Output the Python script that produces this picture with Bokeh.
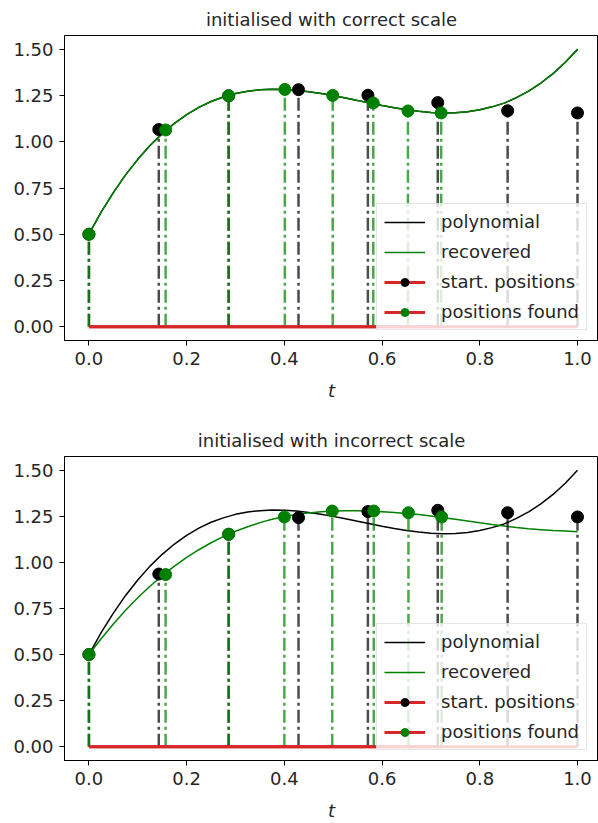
from bokeh.plotting import figure
from bokeh.layouts import column
from bokeh.models import FixedTicker, Range1d, Legend, LegendItem
from bokeh.embed import file_html
from bokeh.resources import INLINE

# ---- data ----
titles = ["initialised with correct scale", "initialised with incorrect scale"]

curve_t = [0.000, 0.025, 0.050, 0.075, 0.100, 0.125, 0.150, 0.175, 0.200, 0.225,
           0.250, 0.275, 0.300, 0.325, 0.350, 0.375, 0.400, 0.425, 0.450, 0.475,
           0.500, 0.525, 0.550, 0.575, 0.600, 0.625, 0.650, 0.675, 0.700, 0.725,
           0.750, 0.775, 0.800, 0.825, 0.850, 0.875, 0.900, 0.925, 0.950, 0.975, 1.000]
polynomial = [0.500, 0.619, 0.725, 0.821, 0.905, 0.980, 1.044, 1.100, 1.147, 1.186,
              1.218, 1.242, 1.261, 1.274, 1.281, 1.284, 1.283, 1.279, 1.271, 1.261,
              1.250, 1.237, 1.223, 1.210, 1.196, 1.184, 1.173, 1.165, 1.159, 1.156,
              1.157, 1.162, 1.173, 1.189, 1.209, 1.239, 1.274, 1.318, 1.369, 1.430, 1.500]
recovered_correct = [0.500, 0.619, 0.725, 0.821, 0.905, 0.980, 1.044, 1.100, 1.147, 1.186,
                     1.218, 1.242, 1.261, 1.274, 1.281, 1.284, 1.283, 1.279, 1.271, 1.261,
                     1.250, 1.237, 1.223, 1.210, 1.196, 1.184, 1.173, 1.165, 1.159, 1.156,
                     1.157, 1.162, 1.173, 1.189, 1.209, 1.239, 1.274, 1.318, 1.369, 1.430, 1.500]
recovered_incorrect = [0.500, 0.586, 0.666, 0.740, 0.808, 0.871, 0.928, 0.980, 1.027, 1.069,
                       1.107, 1.140, 1.169, 1.194, 1.216, 1.234, 1.249, 1.260, 1.269, 1.275,
                       1.279, 1.281, 1.280, 1.278, 1.275, 1.271, 1.266, 1.260, 1.252, 1.243,
                       1.234, 1.225, 1.215, 1.206, 1.198, 1.190, 1.183, 1.178, 1.173, 1.170, 1.167]

start_t = [0.000, 0.143, 0.286, 0.429, 0.571, 0.714, 0.857, 1.000]
start_v_correct = [0.500, 1.066, 1.249, 1.282, 1.252, 1.212, 1.168, 1.156]
start_v_incorrect = [0.500, 0.937, 1.153, 1.243, 1.276, 1.283, 1.270, 1.247]

found_t_correct = [0.000, 0.157, 0.286, 0.401, 0.499, 0.582, 0.653, 0.721]
found_v_correct = [0.500, 1.064, 1.249, 1.283, 1.251, 1.210, 1.167, 1.156]
found_t_incorrect = [0.000, 0.157, 0.286, 0.400, 0.498, 0.583, 0.654, 0.722]
found_v_incorrect = [0.500, 0.934, 1.153, 1.247, 1.279, 1.279, 1.270, 1.247]

x_ticks = [0.0, 0.2, 0.4, 0.6, 0.8, 1.0]
x_tick_labels = ["0.0", "0.2", "0.4", "0.6", "0.8", "1.0"]
y_ticks = [0.0, 0.25, 0.5, 0.75, 1.0, 1.25, 1.5]
y_tick_labels = ["0.00", "0.25", "0.50", "0.75", "1.00", "1.25", "1.50"]

FONT = "DejaVu Sans"
TXT = "#262626"


def panel(title, rec, sv, ft, fv, height, top, bottom):
    p = figure(width=598, height=height, output_backend="svg", toolbar_location=None,
               x_range=Range1d(-0.05, 1.043), y_range=Range1d(-0.075, 1.575),
               min_border_left=64, min_border_right=0,
               min_border_top=top, min_border_bottom=bottom, title=title)
    p.title.align = "center"
    p.title.text_font = FONT
    p.title.text_font_size = "18px"
    p.title.text_font_style = "normal"
    p.title.text_color = TXT
    p.title.standoff = 12
    p.grid.visible = False
    p.outline_line_color = "black"
    p.outline_line_alpha = 1.0
    p.outline_line_width = 1

    p.xaxis.ticker = FixedTicker(ticks=x_ticks)
    p.xaxis.major_label_overrides = dict(zip(x_ticks, x_tick_labels))
    p.yaxis.ticker = FixedTicker(ticks=y_ticks)
    p.yaxis.major_label_overrides = dict(zip(y_ticks, y_tick_labels))
    p.axis.minor_tick_line_color = None
    p.axis.major_tick_in = 0
    p.axis.major_tick_out = 5
    p.axis.axis_line_color = "black"
    p.axis.major_tick_line_color = "black"
    p.axis.major_label_text_font = FONT
    p.axis.major_label_text_font_size = "18px"
    p.axis.major_label_text_color = TXT
    p.axis.major_label_standoff = 6
    p.xaxis.axis_label = "t"
    p.xaxis.axis_label_text_font = FONT
    p.xaxis.axis_label_text_font_size = "18px"
    p.xaxis.axis_label_text_font_style = "italic"
    p.xaxis.axis_label_text_color = TXT
    p.xaxis.axis_label_standoff = 12

    r_poly = p.line(curve_t, polynomial, line_color="black", line_width=1.5)
    r_rec = p.line(curve_t, rec, line_color="green", line_width=1.5)

    # start positions stem
    p.segment(x0=start_t, y0=[0] * len(start_t), x1=start_t, y1=sv,
              line_color="black", line_alpha=0.7, line_width=2.5, line_dash="13 4 3 4")
    r_b1 = p.line([min(start_t), max(start_t)], [0, 0], line_color="#d62728", line_width=3)
    r_m1 = p.scatter(start_t, sv, size=12, fill_color="black", line_color="black")

    # found positions stem
    p.segment(x0=ft, y0=[0] * len(ft), x1=ft, y1=fv,
              line_color="green", line_alpha=0.7, line_width=2.5, line_dash="13 4 3 4")
    r_b2 = p.line([min(ft), max(ft)], [0, 0], line_color="#d62728", line_width=3)
    r_m2 = p.scatter(ft, fv, size=12, fill_color="green", line_color="green")

    legend = Legend(items=[
        LegendItem(label="polynomial", renderers=[r_poly]),
        LegendItem(label="recovered", renderers=[r_rec]),
        LegendItem(label="start. positions", renderers=[r_b1, r_m1]),
        LegendItem(label="positions found", renderers=[r_b2, r_m2]),
    ], location=(312, 10))
    legend.background_fill_color = "white"
    legend.background_fill_alpha = 0.8
    legend.border_line_color = "#cccccc"
    legend.border_line_width = 1
    legend.label_text_font = FONT
    legend.label_text_font_size = "18px"
    legend.label_text_color = TXT
    legend.glyph_width = 41
    legend.glyph_height = 20
    legend.label_height = 20
    legend.label_standoff = 16
    legend.spacing = 9
    legend.padding = 7
    legend.margin = 0
    p.add_layout(legend)
    return p


p1 = panel(titles[0], recovered_correct, start_v_correct, found_t_correct, found_v_correct, 411, 34, 71)
p2 = panel(titles[1], recovered_incorrect, start_v_incorrect, found_t_incorrect, found_v_incorrect, 412, 45, 62)

layout = column(p1, p2, spacing=0)
open("out.html", "w").write(file_html(layout, INLINE))
